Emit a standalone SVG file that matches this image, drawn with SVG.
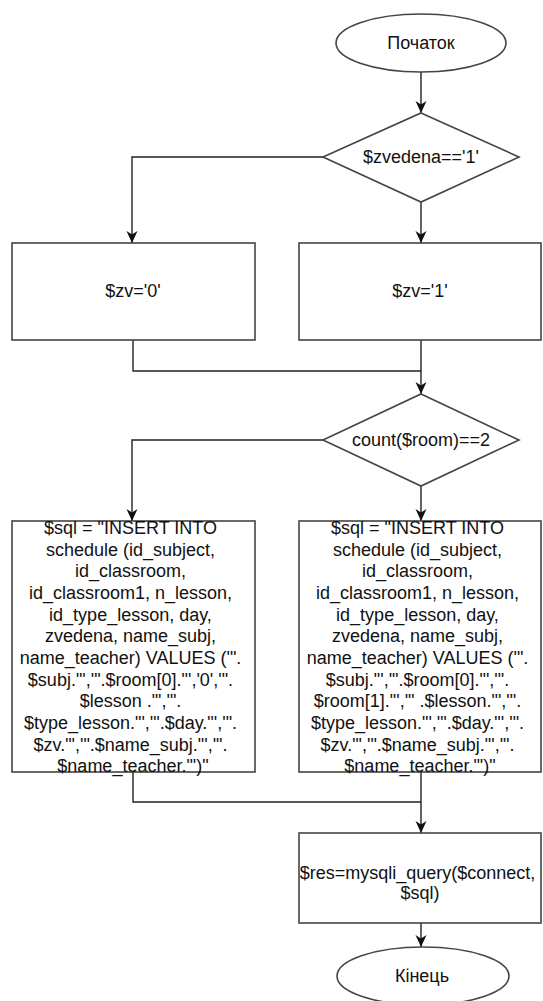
<svg xmlns="http://www.w3.org/2000/svg" width="543" height="1001" viewBox="0 0 543 1001">
<style>
.s{fill:#fff;stroke:#444;stroke-width:1.6}
.c{fill:none;stroke:#222;stroke-width:1.4}
.t{font-family:"Liberation Sans",Arial,sans-serif;font-size:18px;fill:#111;text-anchor:middle}
</style>
<defs>
<marker id="a" markerUnits="userSpaceOnUse" markerWidth="14" markerHeight="12" refX="12" refY="6" orient="auto">
<path d="M0,0.5 L12,6 L0,11.5 L3.5,6 z" fill="#111"/>
</marker>
</defs>
<rect width="543" height="1001" fill="#fff"/>
<g id="connectors">
<path class="c" d="M421,72 V113" marker-end="url(#a)"/>
<path class="c" d="M323,157 H132 V243" marker-end="url(#a)"/>
<path class="c" d="M421,202 V243" marker-end="url(#a)"/>
<path class="c" d="M133,340 V371 H421"/>
<path class="c" d="M421,340 V394" marker-end="url(#a)"/>
<path class="c" d="M323,440 H132 V521" marker-end="url(#a)"/>
<path class="c" d="M421,486 V521" marker-end="url(#a)"/>
<path class="c" d="M133,772 V802 H421"/>
<path class="c" d="M421,772 V833" marker-end="url(#a)"/>
<path class="c" d="M421,923 V947" marker-end="url(#a)"/>
</g>
<g id="start">
<ellipse class="s" cx="421" cy="43" rx="85" ry="29"/>
<text class="t" x="421" y="49">Початок</text>
</g>
<g id="dec1">
<polygon class="s" points="421,113 519,157 421,202 323,157"/>
<text class="t" x="421" y="163">$zvedena=='1'</text>
</g>
<g id="zv0">
<rect class="s" x="12" y="243" width="243" height="97"/>
<text class="t" x="133" y="297">$zv='0'</text>
</g>
<g id="zv1">
<rect class="s" x="299" y="243" width="242" height="97"/>
<text class="t" x="420" y="297">$zv='1'</text>
</g>
<g id="dec2">
<polygon class="s" points="421,394 519,440 421,486 323,440"/>
<text class="t" x="421" y="446">count($room)==2</text>
</g>
<g id="sql1">
<rect class="s" x="12" y="521" width="243" height="251"/>
<text class="t">
<tspan x="133" y="534">$sql = "INSERT INTO</tspan>
<tspan x="133" y="555.7">schedule (id_subject,</tspan>
<tspan x="133" y="577.3">id_classroom,</tspan>
<tspan x="133" y="599">id_classroom1, n_lesson,</tspan>
<tspan x="133" y="620.7">id_type_lesson, day,</tspan>
<tspan x="133" y="642.3">zvedena, name_subj,</tspan>
<tspan x="133" y="664">name_teacher) VALUES ('".</tspan>
<tspan x="133" y="685.7">$subj."','".$room[0]."','0','".</tspan>
<tspan x="133" y="707.3">$lesson ."','".</tspan>
<tspan x="133" y="729">$type_lesson."','".$day."','".</tspan>
<tspan x="133" y="750.7">$zv."','".$name_subj."','".</tspan>
<tspan x="133" y="772.3">$name_teacher."')"</tspan>
</text>
</g>
<g id="sql2">
<rect class="s" x="299" y="521" width="242" height="251"/>
<text class="t">
<tspan x="420" y="534">$sql = "INSERT INTO</tspan>
<tspan x="420" y="555.7">schedule (id_subject,</tspan>
<tspan x="420" y="577.3">id_classroom,</tspan>
<tspan x="420" y="599">id_classroom1, n_lesson,</tspan>
<tspan x="420" y="620.7">id_type_lesson, day,</tspan>
<tspan x="420" y="642.3">zvedena, name_subj,</tspan>
<tspan x="420" y="664">name_teacher) VALUES ('".</tspan>
<tspan x="420" y="685.7">$subj."','".$room[0]."','".</tspan>
<tspan x="420" y="707.3">$room[1]."','" .$lesson."','".</tspan>
<tspan x="420" y="729">$type_lesson."','".$day."','".</tspan>
<tspan x="420" y="750.7">$zv."','".$name_subj."','".</tspan>
<tspan x="420" y="772.3">$name_teacher."')"</tspan>
</text>
</g>
<g id="query">
<rect class="s" x="299" y="833" width="242" height="90"/>
<text class="t">
<tspan x="420" y="879">$res=mysqli_query($connect,</tspan>
<tspan x="420" y="899">$sql)</tspan>
</text>
</g>
<g id="end">
<ellipse class="s" cx="423" cy="976" rx="86" ry="29"/>
<text class="t" x="422" y="982">Кінець</text>
</g>
</svg>
